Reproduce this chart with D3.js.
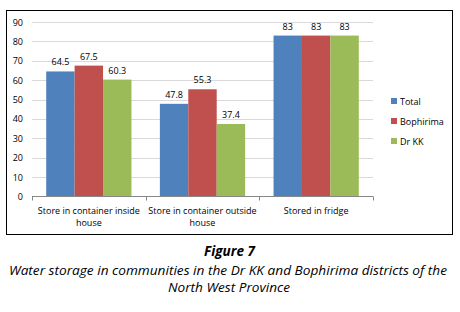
<!DOCTYPE html>
<html>
<head>
<meta charset="utf-8">
<script src="https://cdn.jsdelivr.net/npm/d3@7"></script>
<style>
  body { margin: 0; background: #fff; }
  svg { display: block; }
</style>
</head>
<body>
<svg id="chart"></svg>
<script>
let width = 460;
let height = 312;

let categories = [["Store in container inside", "house"], ["Store in container outside", "house"], ["Stored in fridge"]];
let seriesNames = ["Total", "Bophirima", "Dr KK"];
let total = [64.5, 47.8, 83];
let bophirima = [67.5, 55.3, 83];
let drkk = [60.3, 37.4, 83];
let yTicks = [0, 10, 20, 30, 40, 50, 60, 70, 80, 90];
let colors = ["#4f81bd", "#c0504d", "#9bbb59"];

let series = [total, bophirima, drkk];
let font = "'Open Sans', 'Liberation Sans', sans-serif";

let svg = d3.select('#chart')
  .attr('width', width)
  .attr('height', height);

// chart frame
svg.append('rect')
  .attr('x', 6.5).attr('y', 10.5)
  .attr('width', 446).attr('height', 224)
  .attr('fill', 'none')
  .attr('stroke', '#000')
  .attr('stroke-width', 1);

let xax = d3.scaleBand()
  .domain(d3.range(categories.length))
  .range([32, 373]);

let xin = d3.scaleBand()
  .domain(d3.range(seriesNames.length))
  .range([0, xax.bandwidth()])
  .paddingOuter(0.5)
  .paddingInner(0);

let yax = d3.scaleLinear()
  .domain([0, 90])
  .range([196.5, 22]);

// gridlines
svg.append('g')
  .selectAll('line')
  .data(yTicks.filter(d => d > 0))
  .join('line')
  .attr('x1', 32).attr('x2', 373)
  .attr('y1', d => Math.round(yax(d)) + 0.5)
  .attr('y2', d => Math.round(yax(d)) + 0.5)
  .attr('stroke', '#d9d9d9');

// y tick labels
svg.append('g')
  .selectAll('text')
  .data(yTicks)
  .join('text')
  .attr('x', 23)
  .attr('y', d => yax(d) + 3.5)
  .attr('text-anchor', 'end')
  .attr('font-family', font)
  .attr('font-size', 9)
  .attr('fill', '#000')
  .text(d => d);

// bars
let groups = svg.append('g')
  .selectAll('g')
  .data(series)
  .join('g')
  .attr('fill', (d, i) => colors[i]);

groups.selectAll('rect')
  .data((d, i) => d.map((v, j) => ({v: v, s: i, c: j})))
  .join('rect')
  .attr('x', d => xax(d.c) + xin(d.s))
  .attr('y', d => yax(d.v))
  .attr('width', xin.bandwidth())
  .attr('height', d => yax(0) - yax(d.v));

// value labels
let labels = [];
series.forEach((s, i) => s.forEach((v, j) => labels.push({v: v, s: i, c: j})));
svg.append('g')
  .selectAll('text')
  .data(labels)
  .join('text')
  .attr('x', d => xax(d.c) + xin(d.s) + xin.bandwidth() / 2)
  .attr('y', d => yax(d.v) - 6)
  .attr('text-anchor', 'middle')
  .attr('font-family', font)
  .attr('font-size', 9)
  .attr('fill', '#000')
  .text(d => d.v);

// x axis line and category ticks
svg.append('line')
  .attr('x1', 32).attr('x2', 373)
  .attr('y1', 196.5).attr('y2', 196.5)
  .attr('stroke', '#868686');
svg.append('g')
  .selectAll('line')
  .data(d3.range(categories.length + 1))
  .join('line')
  .attr('x1', d => Math.round(32 + d * xax.step()) + 0.5)
  .attr('x2', d => Math.round(32 + d * xax.step()) + 0.5)
  .attr('y1', 196.5).attr('y2', 200.5)
  .attr('stroke', '#868686');

// category labels
svg.append('g')
  .selectAll('text')
  .data(categories)
  .join('text')
  .attr('x', (d, i) => xax(i) + xax.bandwidth() / 2)
  .attr('y', 214)
  .attr('text-anchor', 'middle')
  .attr('font-family', font)
  .attr('font-size', 9)
  .attr('fill', '#000')
  .selectAll('tspan')
  .data(d => d)
  .join('tspan')
  .attr('x', function() { return this.parentNode.getAttribute('x'); })
  .attr('dy', (d, i) => i === 0 ? 0 : 12)
  .text(d => d);

// legend
let legend = svg.append('g')
  .selectAll('g')
  .data(seriesNames)
  .join('g')
  .attr('transform', (d, i) => `translate(391, ${101 + i * 20})`);
legend.append('rect')
  .attr('x', 0).attr('y', -3)
  .attr('width', 6).attr('height', 6)
  .attr('fill', (d, i) => colors[i]);
legend.append('text')
  .attr('x', 9).attr('y', 3.5)
  .attr('font-family', font)
  .attr('font-size', 9)
  .attr('fill', '#000')
  .text(d => d);

// caption
let capFont = "'Open Sans', 'Noto Sans', sans-serif";
svg.append('text')
  .attr('x', 204).attr('y', 256)
  .attr('textLength', 51)
  .attr('lengthAdjust', 'spacingAndGlyphs')
  .attr('font-family', capFont)
  .attr('font-size', 13.5)
  .attr('font-weight', 'bold')
  .attr('font-style', 'italic')
  .text('Figure 7');
svg.append('text')
  .attr('x', 9).attr('y', 275)
  .attr('textLength', 438)
  .attr('lengthAdjust', 'spacingAndGlyphs')
  .attr('font-family', capFont)
  .attr('font-size', 13)
  .attr('font-style', 'italic')
  .text('Water storage in communities in the Dr KK and Bophirima districts of the');
svg.append('text')
  .attr('x', 168).attr('y', 292)
  .attr('textLength', 122)
  .attr('lengthAdjust', 'spacingAndGlyphs')
  .attr('font-family', capFont)
  .attr('font-size', 13)
  .attr('font-style', 'italic')
  .text('North West Province');
</script>
</body>
</html>
